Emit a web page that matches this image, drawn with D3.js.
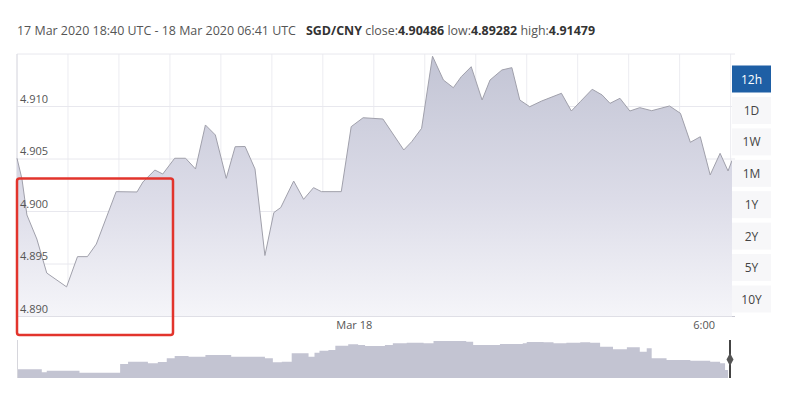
<!DOCTYPE html>
<html><head><meta charset="utf-8">
<script src="https://cdn.jsdelivr.net/npm/d3@7"></script>
<style>
html,body{margin:0;padding:0;background:#fff;}
svg{display:block;font-family:"Open Sans","Noto Sans",sans-serif;}
</style></head>
<body><svg id="c" width="800" height="412"></svg>
<script>
// ---- data ----
const times = ["18:40","18:45","18:50","19:00","19:10","19:30","19:41","19:51","20:00","20:20","20:41","20:47","20:59","21:07","21:19","21:30","21:40","21:50","22:00","22:11","22:20","22:30","22:40","22:50","22:59","23:06","23:19","23:29","23:39","23:47","00:07","00:17","00:29","00:49","01:10","01:18","01:28","01:39","01:50","02:00","02:08","02:18","02:29","02:37","02:49","02:59","03:07","03:17","03:29","03:49","03:59","04:08","04:20","04:30","04:38","04:48","04:58","05:08","05:20","05:38","05:49","05:59","06:09","06:19","06:29","06:37","06:41"];
const rates = [4.90507,4.90310,4.89967,4.89738,4.89414,4.89282,4.89570,4.89570,4.89690,4.90189,4.90186,4.90281,4.90395,4.90357,4.90507,4.90507,4.90405,4.90824,4.90729,4.90316,4.90617,4.90619,4.90405,4.89581,4.89990,4.90038,4.90290,4.90116,4.90227,4.90189,4.90189,4.90808,4.90893,4.90881,4.90586,4.90665,4.90792,4.91479,4.91252,4.91179,4.91284,4.91379,4.91062,4.91252,4.91348,4.91370,4.91062,4.90998,4.91052,4.91126,4.90957,4.91046,4.91164,4.91110,4.91030,4.91078,4.90957,4.90989,4.90960,4.91005,4.90935,4.90659,4.90712,4.90348,4.90554,4.90386,4.90486];
const navTimes = ["18:40","18:53","19:05","19:10","19:40","19:43","20:17","20:24","20:32","20:42","20:52","21:02","21:11","21:19","21:33","21:50","22:06","22:16","22:33","22:50","22:58","23:07","23:17","23:27","23:34","23:40","23:45","23:54","00:01","00:14","00:24","00:31","00:51","00:59","01:13","01:30","01:40","01:53","02:13","02:20","02:40","02:47","03:10","03:14","03:31","03:41","03:54","04:08","04:18","04:28","04:41","04:55","05:08","05:15","05:20","05:35","05:59","06:19","06:29","06:34","06:37"];
const navRates = [4.8887,4.8887,4.8857,4.8873,4.8873,4.8853,4.8853,4.8940,4.8963,4.8963,4.8947,4.8960,4.8997,4.9020,4.9013,4.9030,4.9030,4.9013,4.9013,4.8997,4.8957,4.8963,4.9047,4.9047,4.9013,4.9053,4.9073,4.9080,4.9123,4.9137,4.9130,4.9120,4.9130,4.9147,4.9153,4.9147,4.9170,4.9170,4.9163,4.9130,4.9130,4.9140,4.9147,4.9160,4.9157,4.9147,4.9153,4.9157,4.9153,4.9113,4.9087,4.9107,4.9063,4.9097,4.8997,4.8980,4.8973,4.8963,4.8947,4.8880,4.8820];
const yTicks = [4.890, 4.895, 4.900, 4.905, 4.910];
const xTickTimes = ["00:00","06:00"];
const xTickLabels = ["Mar 18","6:00"];
const ranges = ["12h","1D","1W","1M","1Y","2Y","5Y","10Y"];
const activeRange = "12h";
const pair = "SGD/CNY";
const periodText = "17 Mar 2020 18:40 UTC - 18 Mar 2020 06:41 UTC";
const closeVal = "4.90486", lowVal = "4.89282", highVal = "4.91479";
const startTime = "18:40", endTime = "06:41";

// ---- helpers ----
function parseT(s){
  const [h,m] = s.split(":").map(Number);
  return new Date(Date.UTC(2020, 2, h >= 12 ? 17 : 18, h, m));
}
const mainData = times.map((t,i)=>({t:parseT(t), v:rates[i]}));
const navData = navTimes.map((t,i)=>({t:parseT(t), v:navRates[i]}));

const svg = d3.select("#c");
const L = 17, R = 732, T = 54, B = 316.5;
const x = d3.scaleUtc().domain([parseT(startTime), parseT(endTime)]).range([L, R]);
const y = d3.scaleLinear().domain([4.890, 4.915]).range([B, T]);
const yNav = d3.scaleLinear().domain([4.880, 4.918]).range([378, 340]);

const defs = svg.append("defs");
const grad = defs.append("linearGradient").attr("id","g").attr("gradientUnits","userSpaceOnUse")
  .attr("x1",0).attr("y1",T).attr("x2",0).attr("y2",B);
grad.append("stop").attr("offset","0%").attr("stop-color","#c2c4d4");
grad.append("stop").attr("offset","55%").attr("stop-color","#dcdce8");
grad.append("stop").attr("offset","100%").attr("stop-color","#f5f5f9");

// title
const title = svg.append("text").attr("x",17).attr("y",35).attr("font-size",12.45).attr("fill","#555");
title.append("tspan").text(periodText);
title.append("tspan").attr("dx",10).attr("font-weight","bold").attr("fill","#333").text(pair);
title.append("tspan").text(" close:");
title.append("tspan").attr("font-weight","bold").attr("fill","#333").text(closeVal);
title.append("tspan").text(" low:");
title.append("tspan").attr("font-weight","bold").attr("fill","#333").text(lowVal);
title.append("tspan").text(" high:");
title.append("tspan").attr("font-weight","bold").attr("fill","#333").text(highVal);

// grid
const g = svg.append("g");
const vStep = 51.4*60000;
const vLines = d3.range(x.domain()[0].getTime(), x.domain()[1].getTime(), vStep).map(d=>new Date(d));
g.selectAll(".vg").data(vLines).join("line")
  .attr("x1",d=>x(d)).attr("x2",d=>x(d)).attr("y1",T).attr("y2",B)
  .attr("stroke","#ececf1").attr("stroke-width",1);
g.selectAll(".hg").data(yTicks.concat([4.915])).join("line")
  .attr("x1",L).attr("x2",735).attr("y1",d=>y(d)).attr("y2",d=>y(d))
  .attr("stroke", d=> d===4.890 ? "#c9c9d3" : "#e8e8ee").attr("stroke-width",1);
g.append("line").attr("x1",L).attr("x2",L).attr("y1",T).attr("y2",B).attr("stroke","#dcdce2");

// area + line
svg.append("path").datum(mainData)
  .attr("d", d3.area().x(d=>x(d.t)).y0(B).y1(d=>y(d.v)))
  .attr("fill","url(#g)");
svg.append("path").datum(mainData)
  .attr("d", d3.line().x(d=>x(d.t)).y(d=>y(d.v)))
  .attr("fill","none").attr("stroke","#a0a0ab").attr("stroke-width",1);

// y labels
svg.selectAll(".yl").data(yTicks).join("text")
  .attr("x",20).attr("y",d=>y(d)-4).attr("font-size",11).attr("fill","#555")
  .text(d=>d3.format(".3f")(d));

// x labels
svg.selectAll(".xl").data(xTickTimes).join("text")
  .attr("x",d=>x(parseT(d))+2).attr("y",329).attr("font-size",11).attr("fill","#555")
  .text((d,i)=>xTickLabels[i]);

// navigator
svg.append("path").datum(navData)
  .attr("d", d3.area().curve(d3.curveStepAfter).x(d=>x(d.t)).y0(378).y1(d=>yNav(d.v)))
  .attr("fill","#c3c4d2");
svg.append("line").attr("x1",L+0.5).attr("x2",L+0.5).attr("y1",340).attr("y2",378).attr("stroke","#d6d6dc");
const hx = x(parseT(endTime)) - 2;
svg.append("line").attr("x1",hx).attr("x2",hx).attr("y1",340).attr("y2",378).attr("stroke","#444").attr("stroke-width",2);
svg.append("path").attr("d",`M${hx},353 L${hx+3.5},359.5 L${hx},366 L${hx-3.5},359.5 Z`).attr("fill","#555");

// range buttons
const by = d3.scalePoint().domain(ranges).range([79, 299]);
const btn = svg.selectAll(".b").data(ranges).join("g");
btn.append("rect").attr("x",732).attr("y",d=>by(d)-13.5).attr("width",39).attr("height",27)
  .attr("fill",d=>d===activeRange?"#1e5fa5":"#f7f7f9");
btn.append("text").attr("x",751.5).attr("y",d=>by(d)+4.5).attr("text-anchor","middle")
  .attr("font-size",12).attr("fill",d=>d===activeRange?"#fff":"#444").text(d=>d);

// annotation box
svg.append("rect").attr("x",17).attr("y",178.5).attr("width",156).attr("height",156.5).attr("rx",2.5)
  .attr("fill","none").attr("stroke","#e2342c").attr("stroke-width",2.5);
</script></body></html>
